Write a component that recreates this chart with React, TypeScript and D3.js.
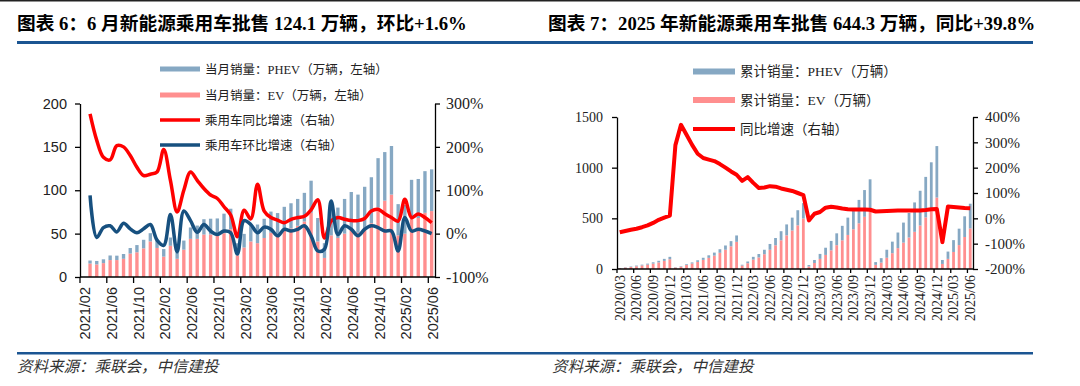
import React, { useEffect, useRef } from 'react';
import * as d3 from 'd3';

// month labels like 2021/02
function monthList(startYear: number, startMonth: number, count: number): string[] {
  const out: string[] = [];
  for (let i = 0; i < count; i++) {
    const m = startMonth - 1 + i;
    const y = startYear + Math.floor(m / 12);
    out.push(y + '/' + String((m % 12) + 1).padStart(2, '0'));
  }
  return out;
}

// ---- chart 6: monthly wholesale (2021/02 - 2025/06) ----
const monthlyMonths = monthList(2021, 2, 53);
// total = PHEV + EV, 万辆
const monthlyTotal = [null,
  19.0, 18.5, 20.4, 24.8, 24.6, 26.5, 33.4, 36.8, 42.9, 50.5,
  41.9, 32.2, 45.5, 28.0, 42.0, 57.1, 59.3, 66.6, 67.2, 67.5, 73.0, 78.7,
  38.9, 49.7, 60.7, 60.5, 67.1, 75.4, 73.7, 80.9, 85.0, 90.0, 97.0, 111.0,
  68, 39, 83, 80, 90, 98, 95, 104, 115, 137, 144, 151,
  84, 83, 112, 113, 122, 124.1];
const monthlyEv = [null,
  15.5, 14.5, 16, 19.5, 19.5, 21, 27, 28.5, 33, 41,
  33.5, 23.5, 36, 21, 31.5, 44, 44, 49, 49, 47.5, 50.5, 55,
  25, 34, 41, 39, 45, 51, 48, 53, 56, 59, 64, 74,
  41, 22, 48, 45, 50, 54, 51, 56, 62, 80, 88, 95,
  48, 50, 67, 68, 74, 76];
// %, right axis
const monthlyYoY = [null,
  276, 215, 176, 170, 203, 200, 180, 153, 134, 137,
  142, 194, 123, 50, 100, 142, 123, 104, 89, 81, 62, 43,
  -7, 54, 34, 114, 52, 37, 31, 25, 33, 37, 40, 55,
  78, -10, 29, 37, 33, 30, 30, 35, 52, 56, 46, 37,
  29, 79, 37, 45, 37, 25];
const monthlyMoM = [null,
  88, -9, 14, 18, 4, 24, 11, 2, 11, 21,
  -15, -27, 44, -42, 52, 30, 3, 21, 6, -2, 6, 2,
  -47, 30, 21, 2, 15, 10, -5, 10, 6, 10, 18, -5,
  -40, -36, 75, -2, 18, 10, -5, 10, 18, 14, 6, 6,
  -40, 37, 6, 10, 6, 0];

// ---- chart 7: year-to-date wholesale (2020/03 - 2025/06) ----
const cumMonths = monthList(2020, 3, 64);
const cumTotal = [
  10, 17, 25, 34, 43, 53, 66, 81, 100, 120,
  17, 28, 47, 65, 86, 111, 135, 162, 195, 232, 275, 331,
  42, 74, 120, 148, 190, 247, 306, 373, 440, 507, 580, 650,
  39, 89, 149, 210, 277, 352, 426, 507, 592, 682, 779, 885,
  68, 107, 190, 270, 360, 458, 553, 657, 772, 909, 1053, 1213,
  89, 172, 285, 398, 520, 644.3];
const cumEv = [
  8, 14, 20, 27, 35, 43, 53, 65, 80, 96,
  14, 23, 39, 54, 70, 90, 110, 132, 160, 190, 224, 268,
  34, 57, 93, 114, 146, 190, 234, 283, 332, 380, 431, 498,
  25, 59, 100, 139, 184, 235, 283, 336, 392, 451, 515, 585,
  41, 63, 111, 156, 206, 260, 311, 367, 429, 509, 597, 705,
  50, 100, 168, 236, 316, 400];
const cumYoY = [
  -55, -50, -45, -41, -35, -28, -18, -6, 3, 11,
  289, 369, 330, 290, 255, 238, 232, 226, 214, 200, 185, 172,
  148, 163, 140, 120, 122, 127, 125, 118, 113, 108, 100, 92,
  -8, 18, 25, 42, 46, 43, 39, 36, 35, 35, 35, 34,
  27, 28, 29, 30, 31, 31, 31, 31, 31, 33, 36, 37,
  -94, 47, 45, 43, 41, 39.8];

const leftTicks = [0, 50, 100, 150, 200];
const rightTicks = [-100, 0, 100, 200, 300];
const cumLeftTicks = [0, 500, 1000, 1500];
const cumRightTicks = [-200, -100, 0, 100, 200, 300, 400];

const PHEV_COLOR = '#86a8c3';
const EV_COLOR = '#ff8f8f';
const RED = '#ff0000';
const NAVY = '#17507f';
const RULE = '#1b5592';
const serif = "'Liberation Serif', 'Noto Sans CJK SC', serif";
const sans = "'Liberation Sans', 'Noto Sans CJK SC', sans-serif";

const App = () => {
  const ref = useRef<SVGSVGElement | null>(null);

  useEffect(() => {
    document.body.style.margin = '0';
    const svg = d3.select(ref.current);
    svg.selectAll('*').remove();

    svg.append('rect').attr('width', 1080).attr('height', 386).attr('fill', '#fff');
    svg.append('rect').attr('width', 1080).attr('height', 1.5).attr('fill', '#222');

    //////////
    // FRAME //
    //////////
    const titles = [
      { x: 17, t: '图表 6：6 月新能源乘用车批售 124.1 万辆，环比+1.6%' },
      { x: 548, t: '图表 7：2025 年新能源乘用车批售 644.3 万辆，同比+39.8%' },
    ];
    titles.forEach(d => {
      svg.append('text').attr('x', d.x).attr('y', 30)
        .attr('font-family', serif).attr('font-weight', 'bold')
        .attr('font-size', 18.7).attr('fill', '#000').text(d.t);
    });
    svg.append('rect').attr('x', 17).attr('y', 41).attr('width', 1016).attr('height', 3).attr('fill', RULE);
    svg.append('rect').attr('x', 17).attr('y', 352).attr('width', 1016).attr('height', 2.5).attr('fill', RULE);
    [17, 552].forEach(x => {
      svg.append('text').attr('x', x).attr('y', 372)
        .attr('font-family', serif).attr('font-style', 'italic')
        .attr('font-size', 15.5).attr('fill', '#333').text('资料来源：乘联会，中信建投');
    });

    const legend = (items: { label: string, color: string, w: number }[], x0: number, x1: number, ys: number[], size: number) => {
      items.forEach((d, i) => {
        svg.append('line').attr('x1', x0).attr('x2', x1).attr('y1', ys[i]).attr('y2', ys[i])
          .attr('stroke', d.color).attr('stroke-width', d.w);
        svg.append('text').attr('x', x1 + 5).attr('y', ys[i]).attr('dy', '0.36em')
          .attr('font-family', serif).attr('font-size', size).attr('fill', '#222').text(d.label);
      });
    };

    const styleAxis = (g: any, font: string, size: number) => {
      g.select('.domain').attr('stroke', '#000').attr('stroke-width', 1.3);
      g.selectAll('.tick line').attr('stroke', '#000').attr('stroke-width', 1.3);
      g.selectAll('text').attr('font-family', font).attr('font-size', size).attr('fill', '#222');
    };

    //////////
    // CHART 6 //
    //////////
    const x1 = d3.scaleBand<string>().domain(monthlyMonths).range([80, 435]).paddingInner(0.5).paddingOuter(0.25);
    const y1L = d3.scaleLinear().domain([0, 200]).range([277, 103.5]);
    const y1R = d3.scaleLinear().domain([-100, 300]).range([277, 103.5]);
    const data1 = monthlyMonths.map((m, i) => ({ m, total: monthlyTotal[i], ev: monthlyEv[i], yoy: monthlyYoY[i], mom: monthlyMoM[i] }));

    const bars1 = svg.append('g');
    bars1.selectAll('.ev').data(data1.filter(d => d.total != null)).enter().append('rect')
      .attr('x', d => x1(d.m)!).attr('width', x1.bandwidth())
      .attr('y', d => y1L(d.ev!)).attr('height', d => y1L(0) - y1L(d.ev!)).attr('fill', EV_COLOR);
    bars1.selectAll('.phev').data(data1.filter(d => d.total != null)).enter().append('rect')
      .attr('x', d => x1(d.m)!).attr('width', x1.bandwidth())
      .attr('y', d => y1L(d.total!)).attr('height', d => y1L(d.ev!) - y1L(d.total!)).attr('fill', PHEV_COLOR);

    const cx1 = (d: any) => x1(d.m)! + x1.bandwidth() / 2;
    const yoyLine = d3.line<any>().defined(d => d.yoy != null).x(cx1).y(d => y1R(d.yoy)).curve(d3.curveCatmullRom.alpha(0.5));
    const momLine = d3.line<any>().defined(d => d.mom != null).x(cx1).y(d => y1R(d.mom)).curve(d3.curveCatmullRom.alpha(0.5));
    svg.append('path').datum(data1).attr('d', yoyLine).attr('fill', 'none').attr('stroke', RED).attr('stroke-width', 3.5).attr('stroke-linejoin', 'round');
    svg.append('path').datum(data1).attr('d', momLine).attr('fill', 'none').attr('stroke', NAVY).attr('stroke-width', 3.5).attr('stroke-linejoin', 'round');

    const ax1L = svg.append('g').attr('transform', 'translate(80,0)')
      .call(d3.axisLeft(y1L).tickValues(leftTicks).tickSize(5).tickSizeOuter(0).tickPadding(8));
    styleAxis(ax1L, sans, 14.5);
    const ax1R = svg.append('g').attr('transform', 'translate(435,0)')
      .call(d3.axisRight(y1R).tickValues(rightTicks).tickFormat(d => d + '%').tickSize(5).tickSizeOuter(0).tickPadding(6));
    styleAxis(ax1R, serif, 16);

    // category axis, ticks between categories every 4 months
    const step1 = x1.step();
    svg.append('line').attr('x1', 80).attr('x2', 435).attr('y1', 277).attr('y2', 277).attr('stroke', '#000').attr('stroke-width', 1.3);
    d3.range(0, 14).forEach(k => {
      const xx = 80 + k * 4 * step1;
      svg.append('line').attr('x1', xx).attr('x2', xx).attr('y1', 277).attr('y2', 283).attr('stroke', '#000').attr('stroke-width', 1.3);
    });
    monthlyMonths.forEach((m, i) => {
      if (i % 4 !== 0) return;
      const xx = x1(m)! + x1.bandwidth() / 2 + 1.5;
      svg.append('text').attr('transform', 'translate(' + xx + ',287) rotate(-90)')
        .attr('text-anchor', 'end').attr('dy', '0.35em')
        .attr('font-family', sans).attr('font-size', 14.5).attr('fill', '#222').text(m);
    });

    legend([
      { label: '当月销量：PHEV（万辆，左轴）', color: PHEV_COLOR, w: 5 },
      { label: '当月销量：EV（万辆，左轴）', color: EV_COLOR, w: 5 },
      { label: '乘用车同比增速（右轴）', color: RED, w: 3.5 },
      { label: '乘用车环比增速（右轴）', color: NAVY, w: 3.5 },
    ], 160, 200, [69, 95, 120, 145], 12.5);

    //////////
    // CHART 7 //
    //////////
    const x2 = d3.scaleBand<string>().domain(cumMonths).range([617, 973]).paddingInner(0.5).paddingOuter(0.25);
    const y2L = d3.scaleLinear().domain([0, 1500]).range([269, 117]);
    const y2R = d3.scaleLinear().domain([-200, 400]).range([269, 117]);
    const data2 = cumMonths.map((m, i) => ({ m, total: cumTotal[i], ev: cumEv[i], yoy: cumYoY[i] }));

    const bars2 = svg.append('g');
    bars2.selectAll('.ev').data(data2).enter().append('rect')
      .attr('x', d => x2(d.m)!).attr('width', x2.bandwidth())
      .attr('y', d => y2L(d.ev)).attr('height', d => y2L(0) - y2L(d.ev)).attr('fill', EV_COLOR);
    bars2.selectAll('.phev').data(data2).enter().append('rect')
      .attr('x', d => x2(d.m)!).attr('width', x2.bandwidth())
      .attr('y', d => y2L(d.total)).attr('height', d => y2L(d.ev) - y2L(d.total)).attr('fill', PHEV_COLOR);

    const cumLine = d3.line<any>().x(d => x2(d.m)! + x2.bandwidth() / 2).y(d => y2R(d.yoy));
    svg.append('path').datum(data2).attr('d', cumLine).attr('fill', 'none').attr('stroke', RED).attr('stroke-width', 4).attr('stroke-linejoin', 'round');

    const ax2L = svg.append('g').attr('transform', 'translate(617,0)')
      .call(d3.axisLeft(y2L).tickValues(cumLeftTicks).tickFormat(d3.format('d')).tickSize(5).tickSizeOuter(0).tickPadding(9));
    styleAxis(ax2L, serif, 14);
    const ax2R = svg.append('g').attr('transform', 'translate(973,0)')
      .call(d3.axisRight(y2R).tickValues(cumRightTicks).tickFormat(d => d + '%').tickSize(5).tickSizeOuter(0).tickPadding(7));
    styleAxis(ax2R, serif, 15);

    const step2 = x2.step();
    svg.append('line').attr('x1', 617).attr('x2', 973).attr('y1', 269).attr('y2', 269).attr('stroke', '#000').attr('stroke-width', 1.3);
    d3.range(0, 22).forEach(k => {
      const xx = 617 + k * 3 * step2;
      svg.append('line').attr('x1', xx).attr('x2', xx).attr('y1', 269).attr('y2', 273).attr('stroke', '#000').attr('stroke-width', 1.3);
    });
    cumMonths.forEach((m, i) => {
      if (i % 3 !== 0) return;
      const xx = x2(m)! + x2.bandwidth() / 2;
      svg.append('text').attr('transform', 'translate(' + xx + ',275) rotate(-90)')
        .attr('text-anchor', 'end').attr('dy', '0.35em')
        .attr('font-family', serif).attr('font-size', 14).attr('fill', '#222').text(m);
    });

    legend([
      { label: '累计销量：PHEV（万辆）', color: PHEV_COLOR, w: 6 },
      { label: '累计销量：EV（万辆）', color: EV_COLOR, w: 6 },
      { label: '同比增速（右轴）', color: RED, w: 4 },
    ], 693, 735, [71.5, 100, 129], 13.5);
  }, []);

  return <svg ref={ref} width={1080} height={386} style={{ display: 'block' }} />;
};

export default App;
